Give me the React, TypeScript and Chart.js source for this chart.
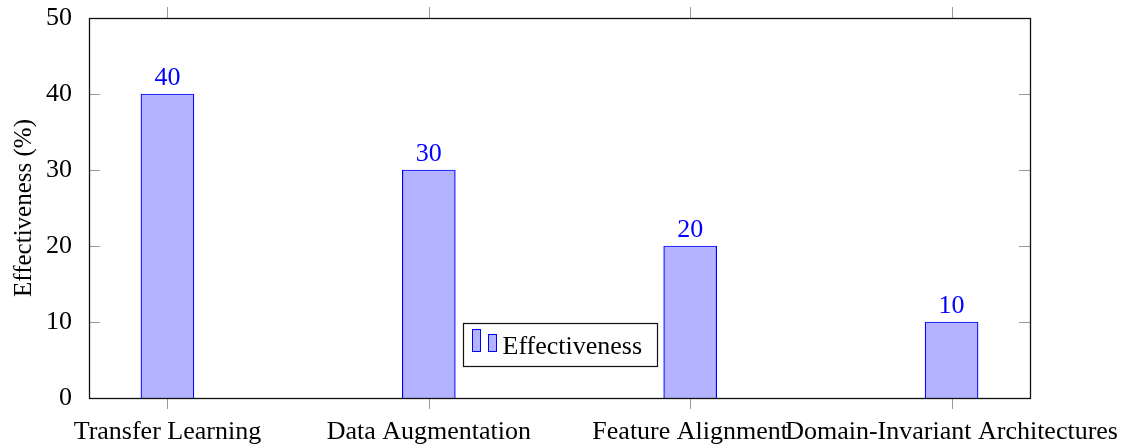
import React, { useEffect, useRef } from "react";
import { Chart, registerables } from "chart.js";

Chart.register(...registerables);

const categories = [
  "Transfer Learning",
  "Data Augmentation",
  "Feature Alignment",
  "Domain-Invariant Architectures",
];
const effectiveness = [40, 30, 20, 10];
const yTicks = [0, 10, 20, 30, 40, 50];
const seriesLabel = "Effectiveness";
const yTitle = "Effectiveness (%)";

const FONT = "'Liberation Serif', 'Times New Roman', serif";
const BLUE = "#0000ff";
const FILL = "#b3b3ff";

const decorPlugin = {
  id: "decor",
  afterDatasetsDraw(chart: any) {
    const { ctx, chartArea, scales } = chart;
    const { left, right, top, bottom } = chartArea;
    const x = scales.x;
    const y = scales.y;
    ctx.save();
    // tick marks
    ctx.strokeStyle = "#9a9a9a";
    ctx.lineWidth = 1;
    ctx.beginPath();
    yTicks.forEach((v) => {
      const py = Math.round(y.getPixelForValue(v)) + 0.5;
      ctx.moveTo(left, py);
      ctx.lineTo(left + 11, py);
      ctx.moveTo(right - 11, py);
      ctx.lineTo(right, py);
    });
    categories.forEach((_, i) => {
      const px = Math.round(x.getPixelForValue(i)) + 0.5;
      ctx.moveTo(px, top - 11);
      ctx.lineTo(px, top);
      ctx.moveTo(px, bottom);
      ctx.lineTo(px, bottom + 11);
    });
    ctx.stroke();
    // frame
    ctx.strokeStyle = "#111";
    ctx.lineWidth = 1.3;
    ctx.strokeRect(left + 0.5, top + 0.5, right - left, bottom - top);
    // value labels
    const meta = chart.getDatasetMeta(0);
    ctx.fillStyle = BLUE;
    ctx.font = `26px ${FONT}`;
    ctx.textAlign = "center";
    ctx.textBaseline = "alphabetic";
    meta.data.forEach((bar: any, i: number) => {
      ctx.fillText(String(effectiveness[i]), bar.x, bar.y - 9);
    });
    // legend
    const ds = chart.data.datasets[0];
    const cx = (left + right) / 2;
    const bw = 194;
    const bh = 43;
    const bx = Math.round(cx - bw / 2) + 0.5;
    const by = Math.round(bottom - 32 - bh) + 0.5;
    ctx.fillStyle = "#fff";
    ctx.fillRect(bx, by, bw, bh);
    ctx.strokeStyle = "#111";
    ctx.lineWidth = 1.2;
    ctx.strokeRect(bx, by, bw, bh);
    const iconBase = by + 28;
    ctx.fillStyle = ds.backgroundColor;
    ctx.strokeStyle = ds.borderColor;
    ctx.lineWidth = 1;
    ctx.fillRect(bx + 9, iconBase - 22, 8, 22);
    ctx.strokeRect(bx + 9, iconBase - 22, 8, 22);
    ctx.fillRect(bx + 25, iconBase - 17, 8, 17);
    ctx.strokeRect(bx + 25, iconBase - 17, 8, 17);
    ctx.fillStyle = "#000";
    ctx.textAlign = "left";
    ctx.textBaseline = "alphabetic";
    ctx.font = `26px ${FONT}`;
    ctx.fillText(ds.label, bx + 39, by + 30);
    ctx.restore();
  },
};

export default function App() {
  const ref = useRef<HTMLCanvasElement>(null);
  useEffect(() => {
    if (!ref.current) return;
    Chart.defaults.font.family = FONT;
    const chart = new Chart(ref.current, {
      type: "bar",
      data: {
        datasets: [
          {
            label: seriesLabel,
            data: effectiveness.map((v, i) => ({ x: i, y: v })),
            backgroundColor: FILL,
            borderColor: BLUE,
            borderWidth: 1.2,
            barThickness: 53,
          },
        ],
      },
      options: {
        responsive: false,
        animation: false,
        layout: { padding: { top: 18, right: 97, left: 0, bottom: 0 } },
        plugins: {
          legend: { display: false },
          tooltip: { enabled: false },
        },
        scales: {
          x: {
            type: "linear",
            offset: false,
            min: -0.3,
            max: 3.3,
            afterBuildTicks: (scale: any) => {
              scale.ticks = categories.map((_, i) => ({ value: i }));
            },
            afterFit: (scale: any) => {
              scale.height = 47;
              scale.paddingLeft = 0;
              scale.paddingRight = 0;
            },
            ticks: {
              autoSkip: false,
              maxRotation: 0,
              minRotation: 0,
              padding: 11,
              color: "#000",
              font: { size: 26, family: FONT },
              callback: (value: any) => categories[value] ?? "",
            },
            grid: { display: false },
            border: { display: false },
          },
          y: {
            min: 0,
            max: 50,
            afterBuildTicks: (scale: any) => {
              scale.ticks = yTicks.map((v) => ({ value: v }));
            },
            afterFit: (scale: any) => {
              scale.width = 89;
              scale.paddingTop = 0;
              scale.paddingBottom = 0;
            },
            ticks: {
              padding: 9,
              color: "#000",
              font: { size: 26, family: FONT },
            },
            grid: { display: false },
            border: { display: false },
            title: {
              display: true,
              text: yTitle,
              color: "#000",
              font: { size: 25, family: FONT },
              padding: { top: 9, bottom: 0 },
            },
          },
        },
      } as any,
      plugins: [decorPlugin],
    });
    return () => chart.destroy();
  }, []);
  return (
    <div style={{ position: "fixed", left: 0, top: 0, width: 1127, height: 445, background: "#fff" }}>
      <canvas ref={ref} width={1127} height={445} />
    </div>
  );
}
